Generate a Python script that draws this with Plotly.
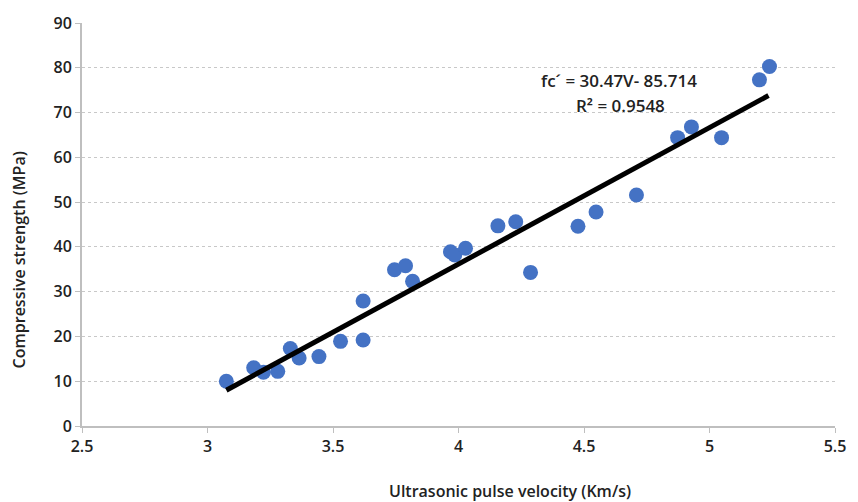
import plotly.graph_objects as go

velocity = [3.075, 3.184, 3.223, 3.28, 3.33, 3.365, 3.444, 3.53, 3.62, 3.62,
            3.745, 3.789, 3.817, 3.968, 3.985, 4.028, 4.157, 4.228, 4.287,
            4.476, 4.548, 4.709, 4.873, 4.928, 5.048, 5.199, 5.239]
strength = [10.0, 13.0, 12.0, 12.2, 17.3, 15.2, 15.5, 18.9, 19.2, 27.9,
            34.9, 35.8, 32.3, 38.9, 38.2, 39.7, 44.7, 45.6, 34.3,
            44.6, 47.8, 51.6, 64.4, 66.8, 64.4, 77.3, 80.3]
slope = 30.47
intercept = -85.714
fit_x = [3.075, 5.235]
fit_y = [slope * v + intercept for v in fit_x]

x_ticks = [2.5, 3, 3.5, 4, 4.5, 5, 5.5]
y_ticks = [0, 10, 20, 30, 40, 50, 60, 70, 80, 90]

font_family = "Open Sans, Noto Sans, sans-serif"
txt = dict(family=font_family, size=16, color="#222", weight=600)

fig = go.Figure()
fig.add_trace(go.Scatter(x=velocity, y=strength, mode="markers",
                         marker=dict(color="#4472C4", size=15, line=dict(width=0)),
                         showlegend=False))
fig.add_trace(go.Scatter(x=fit_x, y=fit_y, mode="lines",
                         line=dict(color="black", width=5), showlegend=False))

fig.add_annotation(x=4.64, y=77.1, xref="x", yref="y",
                   text="fc\u00b4 = 30.47V- 85.714", showarrow=False,
                   font=dict(txt, size=17))
fig.add_annotation(x=4.645, y=71.5, xref="x", yref="y",
                   text="R\u00b2 = 0.9548", showarrow=False,
                   font=dict(txt, size=17))

L, R, T, B = 82, 14, 19, 76
W, H = 858, 502
pw = W - L - R
ph = H - T - B

fig.add_annotation(x=(515 - L) / pw, y=(H - B - 492) / ph, xref="paper", yref="paper",
                   text="Ultrasonic pulse velocity (Km/s)", showarrow=False,
                   xanchor="center", yanchor="middle", font=txt)
fig.add_annotation(x=(18 - L) / pw, y=(H - B - 258) / ph, xref="paper", yref="paper",
                   text="Compressive strength (MPa)", textangle=-90, showarrow=False,
                   xanchor="center", yanchor="middle", font=txt)

fig.update_layout(
    width=W, height=H,
    margin=dict(l=L, r=R, t=T, b=B),
    paper_bgcolor="white", plot_bgcolor="white",
    font=txt,
    xaxis=dict(range=[2.5, 5.5], tickvals=x_ticks, ticktext=[str(t) for t in x_ticks],
               showgrid=False, zeroline=False, showline=True, linecolor="#BFBFBF",
               linewidth=2, ticks="outside", ticklen=5, tickcolor="#BFBFBF",
               tickfont=txt),
    yaxis=dict(range=[0, 90], tickvals=y_ticks,
               showgrid=True, gridcolor="#C8C8C8", griddash="dot", gridwidth=1,
               zeroline=False, showline=True, linecolor="#BFBFBF", linewidth=2,
               ticks="outside", ticklen=5, tickcolor="#BFBFBF",
               tickfont=txt),
)

fig.write_html(
    "out.html",
    config={"displayModeBar": False},
    post_script=(
        "document.body.style.margin='0';"
        "document.body.style.overflow='hidden';"
        "document.documentElement.style.overflow='hidden';"
    ),
)
